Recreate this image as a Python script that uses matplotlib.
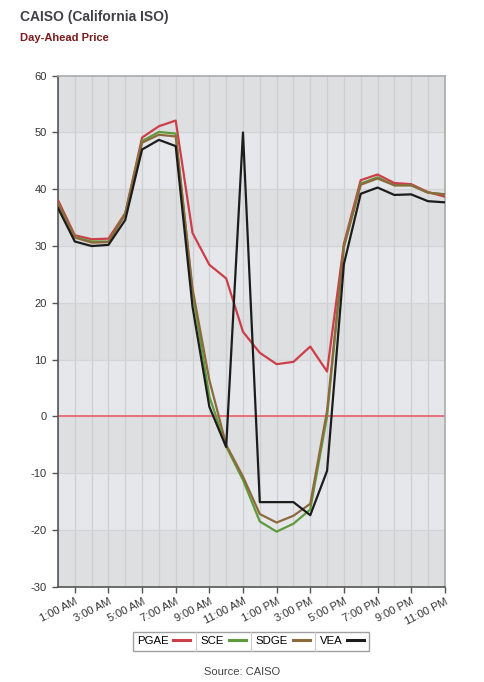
import matplotlib.pyplot as plt
import numpy as np
from matplotlib.lines import Line2D

plt.rcParams["font.family"] = ["Liberation Sans", "DejaVu Sans"]
plt.rcParams["axes.unicode_minus"] = False

hours = list(range(24))
tick_hours = [1, 3, 5, 7, 9, 11, 13, 15, 17, 19, 21, 23]
tick_labels = ["1:00 AM", "3:00 AM", "5:00 AM", "7:00 AM", "9:00 AM", "11:00 AM",
               "1:00 PM", "3:00 PM", "5:00 PM", "7:00 PM", "9:00 PM", "11:00 PM"]

pgae = [38.1, 31.9, 31.2, 31.3, 35.8, 49.1, 51.1, 52.1, 32.3, 26.7, 24.3, 14.9,
        11.2, 9.2, 9.6, 12.3, 7.9, 30.4, 41.6, 42.6, 41.1, 40.9, 39.5, 38.7]
sce = [37.6, 31.6, 30.8, 30.8, 35.7, 48.5, 50.1, 49.8, 21.9, 3.5, -5.3, -11.2,
       -18.5, -20.3, -18.9, -16.4, 0.0, 29.8, 41.0, 42.1, 40.7, 40.7, 39.4, 39.1]
sdge = [37.6, 31.5, 30.6, 30.7, 35.6, 48.2, 49.6, 49.3, 22.5, 6.4, -5.0, -10.6,
        -17.2, -18.7, -17.5, -15.4, 1.0, 30.0, 40.8, 41.9, 40.7, 40.7, 39.4, 39.1]
vea = [36.7, 30.8, 30.0, 30.2, 34.6, 47.0, 48.7, 47.6, 19.3, 1.7, -5.4, 50.0,
       -15.1, -15.1, -15.1, -17.4, -9.6, 26.8, 39.2, 40.3, 39.0, 39.1, 37.9, 37.7]

series = [("PGAE", pgae, "#cc3e4a"), ("SCE", sce, "#5f9a3c"),
          ("SDGE", sdge, "#8c6a3c"), ("VEA", vea, "#1c1c1c")]

fig = plt.figure(figsize=(4.84, 6.82), dpi=100)
ax = fig.add_axes([0.1198, 0.1397, 0.7992, 0.7493])

# alternating horizontal bands
for i, lo in enumerate(range(-30, 60, 10)):
    ax.axhspan(lo, lo + 10, color="#dedfe1" if i % 2 == 0 else "#e5e7ea", zorder=0, lw=0)
for h in hours:
    ax.axvline(h, color="#cfcfd1", lw=0.9, zorder=1)
for v in range(-20, 60, 10):
    ax.axhline(v, color="#d2d3d5", lw=0.9, zorder=1)
ax.axhline(0, color="#e8707a", lw=1.4, zorder=2)

for name, vals, col in series:
    ax.plot(hours, vals, color=col, lw=1.6, zorder=3, label=name)

ax.set_xlim(0, 23)
ax.set_ylim(-30, 60)
ax.set_yticks(range(-30, 61, 10))
ax.set_xticks(tick_hours)
ax.set_xticklabels(tick_labels, rotation=27, ha="right", rotation_mode="anchor")
ax.tick_params(axis="both", labelsize=8, colors="#555555", labelcolor="#333333",
               length=4, width=1)
ax.tick_params(axis="x", pad=3)
ax.tick_params(axis="y", pad=4)
for s in ["left", "bottom"]:
    ax.spines[s].set_color("#555555")
    ax.spines[s].set_linewidth(1.2)
for s in ["top", "right"]:
    ax.spines[s].set_color("#aaaaaa")
    ax.spines[s].set_linewidth(1.2)

fig.text(0.041, 0.975, "CAISO (California ISO)", fontsize=10, fontweight="bold",
         color="#404048", va="center")
fig.text(0.041, 0.944, "Day-Ahead Price", fontsize=8, fontweight="bold",
         color="#7a1c1c", va="center")

handles = [Line2D([], [], color=c, lw=2.2) for _, _, c in series]
leg = fig.legend(handles, [n for n, _, _ in series], loc="center",
                 bbox_to_anchor=(0.518, 0.0595), ncol=4, frameon=True, fancybox=False,
                 markerfirst=False, handlelength=1.5, handletextpad=0.4,
                 columnspacing=0.9, borderpad=0.4, prop={"size": 8.2})
leg.get_frame().set_edgecolor("#888888")
leg.get_frame().set_linewidth(1.0)
leg.get_frame().set_facecolor("white")

# vertical separators between legend entries
fig.canvas.draw()
inv = fig.transFigure.inverted()
fb = leg.get_frame().get_window_extent()
texts = leg.get_texts()
for t in texts[1:]:
    tb = t.get_window_extent()
    xs = tb.x0 - 5
    x0, y0 = inv.transform((xs, fb.y0))
    _, y1 = inv.transform((xs, fb.y1))
    fig.add_artist(Line2D([x0, x0], [y0, y1], color="#cccccc", lw=0.8, zorder=10))

fig.text(0.5, 0.015, "Source: CAISO", fontsize=8, color="#444444", ha="center",
         va="center")

fig.savefig("out.png", dpi=100)
